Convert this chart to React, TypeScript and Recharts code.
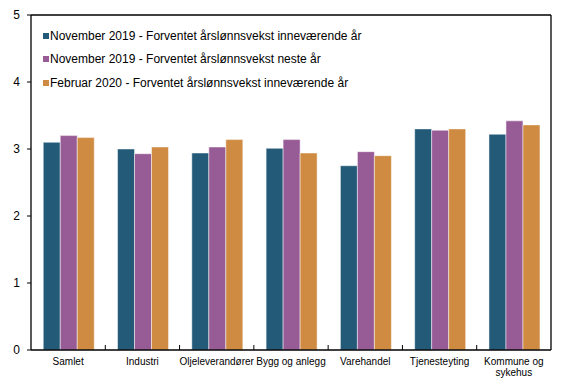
import React from 'react';
import { BarChart, Bar, XAxis, YAxis, ReferenceLine } from 'recharts';

const categories = ['Samlet', 'Industri', 'Oljeleverandører', 'Bygg og anlegg', 'Varehandel', 'Tjenesteyting', 'Kommune og sykehus'];
const nov19Current = [3.1, 3.0, 2.94, 3.01, 2.75, 3.3, 3.22];
const nov19Next = [3.2, 2.93, 3.03, 3.14, 2.96, 3.28, 3.42];
const feb20Current = [3.17, 3.03, 3.14, 2.94, 2.9, 3.3, 3.36];
const yTicks = [0, 1, 2, 3, 4, 5];

const series = [
  { key: 'nov19Current', name: 'November 2019 - Forventet årslønnsvekst inneværende år', color: '#225a78' },
  { key: 'nov19Next', name: 'November 2019 - Forventet årslønnsvekst neste år', color: '#975b96' },
  { key: 'feb20Current', name: 'Februar 2020 - Forventet årslønnsvekst inneværende år', color: '#cf8b41' },
];

const rows = categories.map((cat, i) => ({
  cat,
  nov19Current: nov19Current[i],
  nov19Next: nov19Next[i],
  feb20Current: feb20Current[i],
}));

const FONT = '"Liberation Sans", Arial, sans-serif';

// long multi-word labels: last word goes on a second line
function splitLabel(label: string) {
  const words = String(label).split(' ');
  if (label.length > 16 && words.length > 1) {
    return [words.slice(0, -1).join(' '), words[words.length - 1]];
  }
  return [label];
}

function CatTick(props: any) {
  const { x, y, payload, index, width, visibleTicksCount } = props;
  const half = payload && payload.offset ? payload.offset : width / visibleTicksCount / 2;
  const lines = splitLabel(payload.value);
  return (
    <g>
      {index > 0 && (
        <line x1={x - half} x2={x - half} y1={y} y2={y - 5} stroke="#000" strokeWidth={1} />
      )}
      <text x={x} y={y + 15} textAnchor="middle" fontSize={10} fontFamily={FONT} fill="#000">
        {lines.map((l, i) => (
          <tspan key={i} x={x} dy={i === 0 ? 0 : 11}>{l}</tspan>
        ))}
      </text>
    </g>
  );
}

export default function App() {
  return (
    <div style={{ position: 'fixed', left: 0, top: 0, width: 568, height: 378, background: '#fff' }}>
      <BarChart
        width={568}
        height={378}
        data={rows}
        margin={{ top: 15, right: 0, left: 0, bottom: 0 }}
        barCategoryGap="16.5%"
        barGap={0}
      >
        <XAxis
          dataKey="cat"
          interval={0}
          height={28}
          tickSize={0}
          tickMargin={0}
          tickLine={false}
          axisLine={{ stroke: '#000', strokeWidth: 1.3 }}
          tick={<CatTick />}
        />
        <YAxis
          yAxisId="left"
          domain={[0, 5]}
          ticks={yTicks}
          width={31}
          tickSize={4}
          tickMargin={7}
          axisLine={{ stroke: '#000', strokeWidth: 1.3 }}
          tickLine={{ stroke: '#000' }}
          tick={{ fontSize: 12, fill: '#000', fontFamily: FONT }}
        />
        <YAxis
          yAxisId="right"
          orientation="right"
          domain={[0, 5]}
          ticks={yTicks}
          width={17}
          tickSize={4}
          tickMargin={3}
          axisLine={{ stroke: '#000', strokeWidth: 1.3 }}
          tickLine={{ stroke: '#000' }}
          tick={{ fontSize: 12, fill: '#000', fontFamily: FONT, textAnchor: 'start' }}
        />
        <ReferenceLine yAxisId="left" y={5} stroke="#000" strokeWidth={1.3} />
        {series.map(s => (
          <Bar
            key={s.key}
            yAxisId="left"
            dataKey={s.key}
            name={s.name}
            fill={s.color}
            stroke="#ffffff"
            strokeOpacity={0.6}
            strokeWidth={0.8}
            isAnimationActive={false}
          />
        ))}
      </BarChart>
      <div style={{ position: 'absolute', left: 43, top: 24, fontFamily: FONT, fontSize: 12, color: '#000' }}>
        {series.map(s => (
          <div key={s.key} style={{ display: 'flex', alignItems: 'center', height: 23.5, whiteSpace: 'nowrap' }}>
            <span style={{ display: 'inline-block', width: 6, height: 6, background: s.color, marginRight: 1 }} />
            <span>{s.name}</span>
          </div>
        ))}
      </div>
    </div>
  );
}
